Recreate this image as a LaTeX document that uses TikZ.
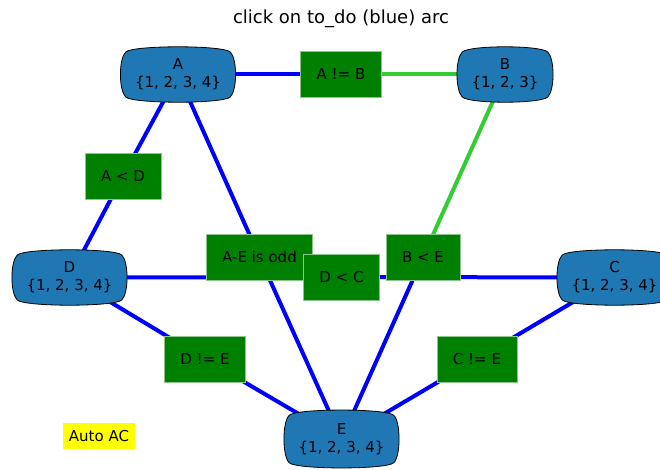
\documentclass[tikz,border=0pt]{standalone}
\usepackage{fontspec}
\setmainfont{DejaVu Sans}
\definecolor{varblue}{HTML}{1F77B4}
\definecolor{congreen}{HTML}{008000}
\definecolor{donegreen}{HTML}{32CD32}
\definecolor{autoyellow}{HTML}{FFFF00}
\pgfdeclarelayer{arcs}
\pgfdeclarelayer{boxes}
\pgfsetlayers{arcs,boxes,main}

% outline with slightly bulging sides round a variable node
\newcommand\varoutline[1]{%
  \filldraw[draw=black, line width=0.8pt, fill=varblue]
    (#1.north west) .. controls +(7pt,7pt) and +(-7pt,7pt) .. (#1.north east)
    .. controls +(7pt,-7pt) and +(7pt,7pt) .. (#1.south east)
    .. controls +(-7pt,-7pt) and +(7pt,-7pt) .. (#1.south west)
    .. controls +(-7pt,7pt) and +(-7pt,-7pt) .. (#1.north west) -- cycle;}

\begin{document}
\begin{tikzpicture}[x=1pt,y=-1pt,
  var/.style={align=center, minimum height=44.5pt, inner xsep=9.2pt, inner ysep=0pt,
    font=\fontsize{15}{18}\selectfont},
  con/.style={fill=congreen, draw=congreen!45!white, line width=0.6pt,
    minimum height=46pt, inner xsep=16pt, font=\fontsize{15}{18}\selectfont},
  todo/.style={blue, line width=4pt},
  done/.style={donegreen, line width=4pt}]
\useasboundingbox (0,0) rectangle (660,470);

\node[font=\fontsize{18}{22}\selectfont] at (341,19) (title) {click on to\_do (blue) arc};

% variables
\node[var] at (178,74.5) (A) {A\\\{1, 2, 3, 4\}};
\node[var] at (505,74.5) (B) {B\\\{1, 2, 3\}};
\node[var] at (614.5,277.5) (C) {C\\\{1, 2, 3, 4\}};
\node[var] at (69.5,277.5) (D) {D\\\{1, 2, 3, 4\}};
\node[var, minimum height=47pt] at (341.5,439) (E) {E\\\{1, 2, 3, 4\}};

\begin{pgfonlayer}{boxes}
  \foreach \v in {A,B,C,D,E} {\varoutline{\v}}
\end{pgfonlayer}

% constraints
\node[con] at (341,74.5) (AneB) {A != B};
\node[con] at (123,176) (AltD) {A < D};
\node[con] at (259.5,257) (AEodd) {A-E is odd};
\node[con] at (341.5,277) (DltC) {D < C};
\node[con] at (423,257) (BltE) {B < E};
\node[con] at (477,359) (CneE) {C != E};
\node[con] at (205,359) (DneE) {D != E};

\node[fill=autoyellow, minimum height=26pt, inner xsep=6pt,
  font=\fontsize{15}{18}\selectfont] at (99,436) (auto) {Auto AC};

\begin{pgfonlayer}{arcs}
  \draw[todo] (A.center) -- (AneB.center);
  \draw[done] (B.center) -- (AneB.center);
  \draw[todo] (A.center) -- (AltD.center);
  \draw[todo] (D.center) -- (AltD.center);
  \draw[todo] (A.center) -- (AEodd.center);
  \draw[todo] (E.center) -- (AEodd.center);
  \draw[todo] (D.center) -- (DltC.center);
  \draw[todo] (C.center) -- (DltC.center);
  \draw[done] (B.center) -- (BltE.center);
  \draw[todo] (E.center) -- (BltE.center);
  \draw[todo] (C.center) -- (CneE.center);
  \draw[todo] (E.center) -- (CneE.center);
  \draw[todo] (D.center) -- (DneE.center);
  \draw[todo] (E.center) -- (DneE.center);
\end{pgfonlayer}
\end{tikzpicture}
\end{document}
